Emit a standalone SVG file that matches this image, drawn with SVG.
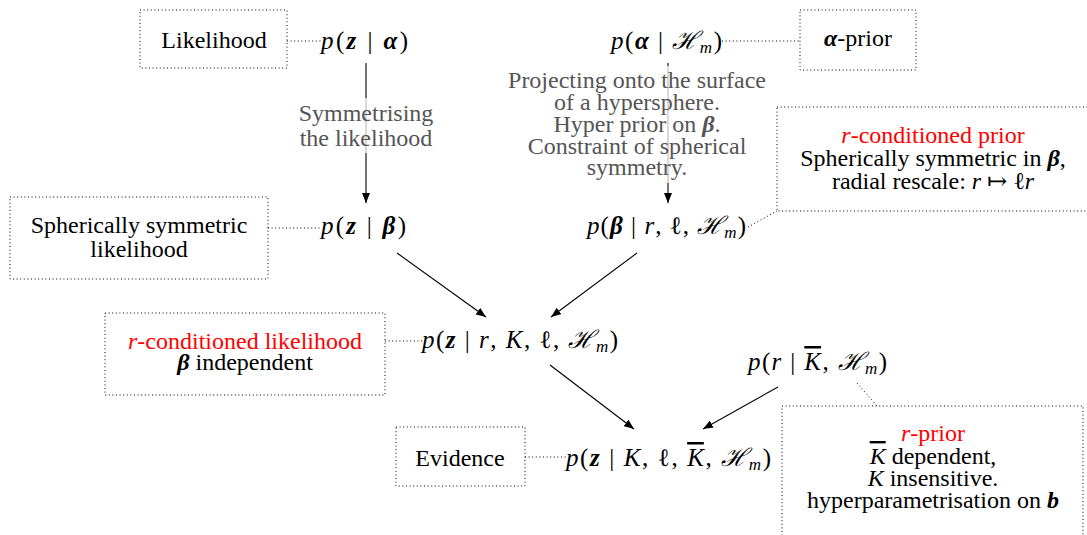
<svg xmlns="http://www.w3.org/2000/svg" width="1087" height="535" viewBox="0 0 1087 535">
<style>
.t{font-family:"Liberation Serif","DejaVu Serif",serif;font-size:24px;fill:#000;text-anchor:middle}
.m{font-family:"Liberation Serif","DejaVu Serif",serif;font-size:25px;fill:#000}
.i{font-style:italic}
.bi{font-style:italic;font-weight:bold}
.sub{font-size:17px;font-style:italic}
.red{fill:#ff0000}
.blk{fill:#000}
.g{fill:#555}
.box{fill:none;stroke:#000;stroke-width:1;stroke-dasharray:1 2.6}
.dot{fill:none;stroke:#000;stroke-width:1;stroke-dasharray:1 2.6}
.arr{fill:none;stroke:#000;stroke-width:1.1;marker-end:url(#ah)}
.lbg{fill:#fff;fill-opacity:0.72}
</style>
<defs>
<marker id="ah" viewBox="0 0 10 8" refX="10" refY="4" markerWidth="10" markerHeight="8" markerUnits="userSpaceOnUse" orient="auto">
<path d="M0,0 L10,4 L0,8 Z" fill="#000"/>
</marker>
</defs>
<rect width="1087" height="535" fill="#fff"/>

<g id="connectors">
<line class="dot" x1="287" y1="41" x2="322" y2="41"/>
<line class="dot" x1="722" y1="41" x2="800" y2="41"/>
<line class="dot" x1="268" y1="228" x2="321" y2="228"/>
<line class="dot" x1="748" y1="227" x2="777" y2="211"/>
<line class="dot" x1="385" y1="341" x2="422" y2="341"/>
<line class="dot" x1="525" y1="457" x2="566" y2="457"/>
<line class="dot" x1="857" y1="383" x2="877" y2="406"/>
<line class="arr" x1="366" y1="63" x2="366" y2="203"/>
<line class="arr" x1="668" y1="63" x2="668" y2="203"/>
<line class="arr" x1="397" y1="253" x2="486" y2="317"/>
<line class="arr" x1="637" y1="253" x2="551" y2="317"/>
<line class="arr" x1="550" y1="365" x2="634" y2="429"/>
<line class="arr" x1="778" y1="387" x2="703" y2="429"/>
<g id="label-symmetrising">
<rect class="lbg" x="296" y="98" width="140" height="55"/>
<text class="t g" x="366" y="121">Symmetrising<tspan x="366" dy="25">the likelihood</tspan></text>
</g>
<g id="label-projecting">
<rect class="lbg" x="504" y="66" width="268" height="117"/>
<text class="t g" x="637" y="88">Projecting onto the surface<tspan x="637" dy="22">of a hypersphere.</tspan><tspan x="637" dy="22">Hyper prior on <tspan class="bi">β</tspan>.</tspan><tspan x="637" dy="21.5">Constraint of spherical</tspan><tspan x="637" dy="21.5">symmetry.</tspan></text>
</g>
</g>

<g id="likelihood">
<rect class="box" x="140" y="10" width="147" height="58"/>
<text class="t" x="214" y="48">Likelihood</text>
</g>
<g id="p-z-alpha">
<text class="m" x="321" y="49" textLength="87"><tspan class="i">p</tspan>(<tspan class="bi">z</tspan> | <tspan class="bi">α</tspan>)</text>
</g>
<g id="p-alpha-H">
<text class="m" x="611" y="49" textLength="111"><tspan class="i">p</tspan>(<tspan class="bi">α</tspan> | <tspan class="i">ℋ</tspan><tspan class="sub" dy="4">m</tspan><tspan dy="-4">)</tspan></text>
</g>
<g id="alpha-prior">
<rect class="box" x="800" y="10" width="116" height="60"/>
<text class="t" x="858" y="46"><tspan class="bi">α</tspan>-prior</text>
</g>

<g id="sph-likelihood">
<rect class="box" x="10" y="197" width="258" height="82"/>
<text class="t" x="139" y="233">Spherically symmetric<tspan x="139" dy="24">likelihood</tspan></text>
</g>
<g id="p-z-beta">
<text class="m" x="321" y="234" textLength="85"><tspan class="i">p</tspan>(<tspan class="bi">z</tspan> | <tspan class="bi">β</tspan>)</text>
</g>
<g id="p-beta-r">
<text class="m" x="587" y="234" textLength="159"><tspan class="i">p</tspan>(<tspan class="bi">β</tspan> | <tspan class="i">r</tspan>, ℓ, <tspan class="i">ℋ</tspan><tspan class="sub" dy="4">m</tspan><tspan dy="-4">)</tspan></text>
</g>
<g id="rcond-prior">
<rect class="box" x="777" y="107" width="320" height="104"/>
<text class="t" x="933" y="143"><tspan class="red"><tspan class="i">r</tspan>-conditioned prior</tspan><tspan x="933" dy="23">Spherically symmetric in <tspan class="bi">β</tspan>,</tspan><tspan x="933" dy="23">radial rescale: <tspan class="i">r</tspan> ↦ ℓ<tspan class="i">r</tspan></tspan></text>
</g>

<g id="rcond-likelihood">
<rect class="box" x="105" y="313" width="280" height="82"/>
<text class="t" x="245" y="349"><tspan class="red"><tspan class="i">r</tspan>-conditioned likelihood</tspan><tspan x="245" dy="21"><tspan class="bi">β</tspan> independent</tspan></text>
</g>
<g id="p-z-rKlH">
<text class="m" x="422" y="348" textLength="196"><tspan class="i">p</tspan>(<tspan class="bi">z</tspan> | <tspan class="i">r</tspan>, <tspan class="i">K</tspan>, ℓ, <tspan class="i">ℋ</tspan><tspan class="sub" dy="4">m</tspan><tspan dy="-4">)</tspan></text>
</g>
<g id="p-r-Kbar">
<text class="m" x="748" y="370" textLength="139"><tspan class="i">p</tspan>(<tspan class="i">r</tspan> | <tspan class="i" text-decoration="overline">K</tspan>, <tspan class="i">ℋ</tspan><tspan class="sub" dy="4">m</tspan><tspan dy="-4">)</tspan></text>
</g>

<g id="evidence">
<rect class="box" x="396" y="427" width="129" height="59"/>
<text class="t" x="460" y="466">Evidence</text>
</g>
<g id="p-z-evidence">
<text class="m" x="566" y="466" textLength="205"><tspan class="i">p</tspan>(<tspan class="bi">z</tspan> | <tspan class="i">K</tspan>, ℓ, <tspan class="i" text-decoration="overline">K</tspan>, <tspan class="i">ℋ</tspan><tspan class="sub" dy="4">m</tspan><tspan dy="-4">)</tspan></text>
</g>
<g id="r-prior">
<rect class="box" x="782" y="406" width="301" height="140"/>
<text class="t" x="933" y="441"><tspan class="red"><tspan class="i">r</tspan>-prior</tspan><tspan x="933" dy="23"><tspan class="i" text-decoration="overline">K</tspan> dependent,</tspan><tspan x="933" dy="22"><tspan class="i">K</tspan> insensitive.</tspan><tspan x="933" dy="22">hyperparametrisation on <tspan class="bi">b</tspan></tspan></text>
</g>
</svg>
